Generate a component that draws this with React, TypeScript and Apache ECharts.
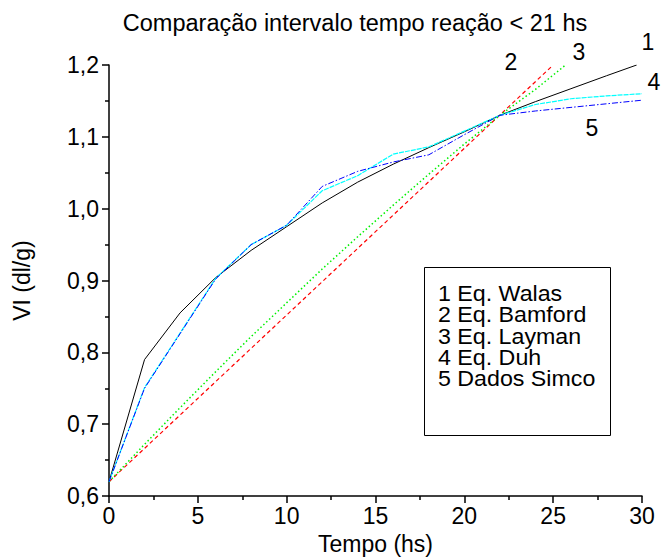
import React, { useEffect, useRef } from "react";
import * as echarts from "echarts";

const FONT = '"Liberation Sans", Arial, Helvetica, sans-serif';

// Tempo (hs) and VI (dl/g) for each model
const walasT = [0, 2, 4, 6, 8, 10, 12, 14, 16, 18, 20, 22, 24, 26, 28, 29.7];
const walasVI = [0.62, 0.79, 0.855, 0.904, 0.942, 0.975, 1.008, 1.037, 1.062, 1.085, 1.107, 1.13, 1.149, 1.167, 1.185, 1.2];

const bamfordT = [0, 25];
const bamfordVI = [0.62, 1.2];

const laymanT = [0, 2, 4, 6, 8, 10, 12, 14, 16, 18, 20, 22, 24, 25.7];
const laymanVI = [0.62, 0.672, 0.723, 0.773, 0.822, 0.869, 0.916, 0.961, 1.005, 1.048, 1.09, 1.13, 1.166, 1.2];

const duhT = [0, 2, 4, 6, 8, 10, 12, 14, 16, 18, 20, 22, 24, 26, 28, 30];
const duhVI = [0.62, 0.751, 0.827, 0.903, 0.95, 0.977, 1.025, 1.046, 1.076, 1.086, 1.108, 1.13, 1.145, 1.153, 1.157, 1.16];

const simcoT = [0, 2, 4, 6, 8, 10, 12, 14, 16, 18, 20, 22, 24, 26, 28, 30];
const simcoVI = [0.62, 0.75, 0.826, 0.902, 0.95, 0.977, 1.031, 1.052, 1.065, 1.075, 1.103, 1.13, 1.136, 1.141, 1.146, 1.151];

const legendLines = ["1 Eq. Walas", "2 Eq. Bamford", "3 Eq. Layman", "4 Eq. Duh", "5 Dados Simco"];
const curveNumbers = ["1", "2", "3", "4", "5"];

const pairs = (t: number[], v: number[]) => t.map((x, i) => [x, v[i]]);

const lineSeries = (
  name: string,
  t: number[],
  v: number[],
  color: string,
  type: any,
  width: number
) => ({
  name,
  type: "line",
  data: pairs(t, v),
  showSymbol: false,
  symbol: "none",
  smooth: false,
  lineStyle: { color, width, type },
  z: 3,
});

const comma = (v: number) => v.toFixed(1).replace(".", ",");

export default function App() {
  const ref = useRef<HTMLDivElement>(null);

  useEffect(() => {
    document.body.style.margin = "0";
    const chart = echarts.init(ref.current!, null, { renderer: "svg" });

    const axisCommon = {
      type: "value",
      axisLine: { show: true, onZero: false, lineStyle: { color: "#000", width: 1.5 } },
      axisTick: { show: true, inside: false, length: 7, lineStyle: { color: "#000", width: 1.5 } },
      minorTick: { show: true, splitNumber: 2, length: 4, lineStyle: { color: "#000", width: 1.5 } },
      splitLine: { show: false },
      minorSplitLine: { show: false },
      axisLabel: { color: "#000", fontSize: 23, fontFamily: FONT },
      nameLocation: "middle",
      nameTextStyle: { color: "#000", fontSize: 23, fontFamily: FONT },
    };

    // curve numbers near the right-hand ends
    const numberPos = [
      [648, 42],
      [511, 62],
      [579, 52],
      [654, 82],
      [592, 128],
    ];

    chart.setOption({
      animation: false,
      backgroundColor: "#fff",
      grid: { left: 109, right: 19, top: 65, bottom: 63 },
      xAxis: {
        ...axisCommon,
        min: 0,
        max: 30,
        interval: 5,
        name: "Tempo (hs)",
        nameGap: 35,
        axisLabel: { ...axisCommon.axisLabel, margin: 8 },
      },
      yAxis: {
        ...axisCommon,
        min: 0.6,
        max: 1.2,
        interval: 0.1,
        name: "VI (dl/g)",
        nameGap: 76,
        nameRotate: 90,
        axisLabel: { ...axisCommon.axisLabel, margin: 10, formatter: comma },
      },
      series: [
        lineSeries("1 Eq. Walas", walasT, walasVI, "#000000", "solid", 1),
        lineSeries("2 Eq. Bamford", bamfordT, bamfordVI, "#ff0000", [4, 3], 1.2),
        lineSeries("3 Eq. Layman", laymanT, laymanVI, "#00f000", [1.5, 2.5], 1.5),
        lineSeries("4 Eq. Duh", duhT, duhVI, "#00ffff", [5, 1], 1.2),
        lineSeries("5 Dados Simco", simcoT, simcoVI, "#0000ff", [6, 2, 1.5, 2], 1),
      ],
      graphic: [
        {
          type: "text",
          x: 355,
          y: 23,
          style: {
            text: "Comparação intervalo tempo reação < 21 hs",
            font: `23.5px ${FONT}`,
            fill: "#000",
            textAlign: "center",
            textVerticalAlign: "middle",
          },
        },
        ...curveNumbers.map((n, i) => ({
          type: "text",
          x: numberPos[i][0],
          y: numberPos[i][1],
          style: {
            text: n,
            font: `23px ${FONT}`,
            fill: "#000",
            textAlign: "center",
            textVerticalAlign: "middle",
          },
        })),
        {
          type: "rect",
          shape: { x: 424.5, y: 267.5, width: 186, height: 168 },
          style: { fill: "#fff", stroke: "#000", lineWidth: 1 },
          z: 10,
        },
        ...legendLines.map((s, i) => ({
          type: "text",
          x: 438,
          y: 294 + i * 21.2,
          scaleX: 1.08,
          z: 11,
          style: {
            text: s,
            font: `21.5px ${FONT}`,
            fill: "#000",
            textAlign: "left",
            textVerticalAlign: "middle",
          },
        })),
      ],
    });

    return () => chart.dispose();
  }, []);

  return <div ref={ref} style={{ width: 661, height: 560 }} />;
}
